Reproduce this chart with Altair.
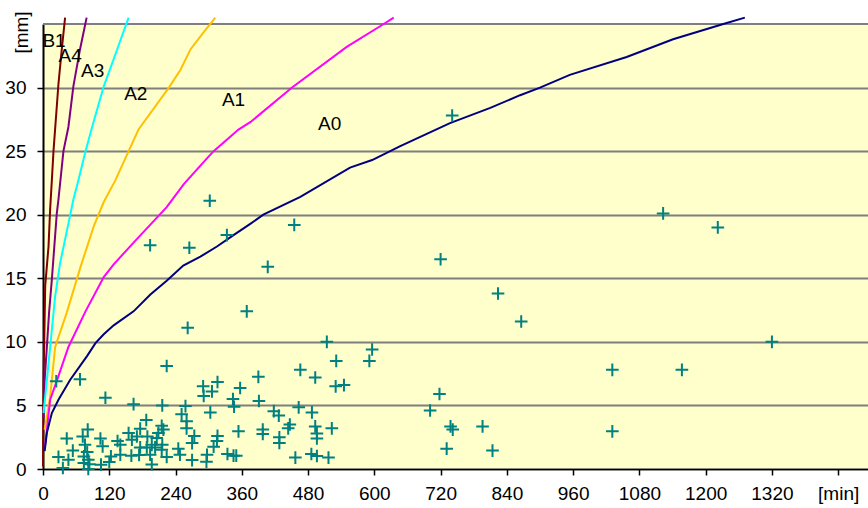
import altair as alt
import pandas as pd

# ---- curve data (time [min], depth [mm]) ----
B1_t = [0, 1, 4, 10, 13, 16, 19, 28, 34, 40]
B1_d = [0.2, 7.0, 14.4, 17.5, 20.5, 22.7, 25.0, 30.3, 33.0, 35.5]
A4_t = [1, 3, 7, 11, 16, 25, 28, 37, 46, 55, 67, 79]
A4_d = [4.0, 7.0, 9.6, 12.3, 14.9, 20.1, 21.2, 25.0, 26.9, 30.1, 33.0, 35.5]
A3_t = [1, 13, 22, 31, 46, 55, 64, 77, 89, 110, 131, 155]
A3_d = [4.4, 9.6, 13.6, 16.2, 19.3, 21.2, 22.7, 25.0, 26.9, 30.1, 32.6, 35.5]
A2_t = [3, 13, 22, 43, 68, 92, 110, 131, 155, 173, 228, 249, 267, 290, 312]
A2_d = [3.1, 5.7, 9.6, 12.3, 15.9, 19.1, 21.0, 22.7, 25.0, 26.7, 30.0, 31.4, 33.0, 34.3, 35.5]
A1_t = [4, 13, 28, 46, 77, 110, 128, 164, 194, 224, 255, 294, 309, 354, 376, 451, 550, 617, 635]
A1_d = [1.9, 5.45, 7.3, 9.6, 12.4, 15.1, 16.1, 17.8, 19.2, 20.6, 22.4, 24.3, 25.0, 26.7, 27.3, 30.0, 33.2, 35.0, 35.5]
A0_t = [3, 7, 16, 28, 49, 80, 95, 110, 128, 164, 194, 224, 254, 285, 315, 345, 376, 399, 466, 556, 596, 647, 737, 810, 864, 900, 954, 1057, 1141, 1232, 1271]
A0_d = [1.4, 2.85, 4.4, 5.45, 7.0, 8.9, 9.9, 10.6, 11.3, 12.4, 13.7, 14.8, 16.0, 16.7, 17.5, 18.4, 19.3, 20.0, 21.4, 23.7, 24.3, 25.4, 27.2, 28.4, 29.4, 30.0, 31.0, 32.4, 33.8, 35.0, 35.5]

series_names = ["B1", "A4", "A3", "A2", "A1", "A0"]
series_colors = ["#800000", "#800080", "#00FFFF", "#FFC000", "#FF00FF", "#000080"]

# label positions (time, depth)
label_t = [-1, 28, 69, 147, 324, 498]
label_d = [33.7, 32.5, 31.3, 29.5, 29.0, 27.1]

# ---- measured points ----
pts_t = [24, 67, 113, 164, 81, 72, 43, 104, 135, 155, 76, 108, 140, 54, 80, 28, 46, 74, 82, 123,
         140, 160, 84, 105, 36, 82, 120, 74, 161, 176, 174, 176, 170,
         187, 189, 209, 215, 203, 188, 194, 215, 197, 197, 216, 224, 218, 206, 216, 224, 245, 248,
         270, 258, 251, 260, 260, 274, 270, 290, 316, 306, 291, 303, 297, 296, 316, 315, 309, 262,
         194, 265, 302, 333,
         357, 390, 344, 346, 391, 354, 398, 398, 334, 345, 350, 369, 407, 455, 418, 427, 428, 428,
         447, 444, 463, 487, 466, 493, 514, 531, 530, 545, 493, 496, 496, 523, 457, 486, 496, 517,
         591, 596,
         701, 718, 738, 742, 796, 731, 814, 741, 720, 824, 866, 1031, 1031, 1123, 1222, 1157, 1320]
pts_d = [6.9, 7.05, 5.6, 5.1, 3.1, 2.56, 2.4, 2.4, 2.2, 2.83, 1.9, 1.78, 1.9, 1.45, 1.33, 0.95, 0.73, 0.99, 0.73, 0.99,
         1.12, 1.05, 0.37, 0.34, 0.08, 0.0, 0.55, 0.47, 2.3, 1.7, 1.1, 3.17, 2.56,
         3.85, 2.56, 2.83, 3.4, 1.7, 1.7, 1.12, 1.52, 0.36, 1.9, 5.0, 8.1, 3.1, 2.44, 1.9, 0.95, 1.6, 1.12,
         0.7, 4.95, 4.3, 3.75, 3.2, 2.6, 2.04, 6.5, 6.84, 6.1, 5.75, 4.45, 1.12, 0.57, 2.6, 2.2, 1.75, 11.1,
         17.6, 17.4, 21.1, 18.4,
         6.37, 7.25, 5.5, 4.9, 5.35, 2.96, 3.1, 2.75, 1.18, 1.05, 1.05, 12.4, 15.9, 19.2, 4.55, 4.2, 2.5, 2.05,
         3.5, 3.2, 4.85, 4.45, 7.8, 7.2, 10.0, 8.5, 6.5, 6.6, 3.35, 2.8, 2.4, 3.2, 0.9, 1.18, 1.02, 0.9,
         8.5, 9.4,
         4.6, 5.9, 3.35, 3.1, 3.35, 1.6, 1.45, 27.8, 16.5, 13.8, 11.6, 7.8, 2.96, 20.1, 19.0, 7.8, 10.0]

x_ticks = list(range(0, 1441, 120))
y_ticks = [0, 5, 10, 15, 20, 25, 30]

# ---- build tables ----
curve_rows = []
for name, ts, ds in [("B1", B1_t, B1_d), ("A4", A4_t, A4_d), ("A3", A3_t, A3_d),
                     ("A2", A2_t, A2_d), ("A1", A1_t, A1_d), ("A0", A0_t, A0_d)]:
    for i, (t, d) in enumerate(zip(ts, ds)):
        curve_rows.append({"x": t, "y": d, "series": name, "i": i})
curve_df = pd.DataFrame(curve_rows)
pts_df = pd.DataFrame({"x": pts_t, "y": pts_d})
lab_df = pd.DataFrame({"x": label_t, "y": label_d, "label": series_names})
top_df = pd.DataFrame({"y": [35]})

FONT = "Liberation Sans"
xscale = alt.Scale(domain=[0, 1494], nice=False, zero=False)
yscale = alt.Scale(domain=[0, 35], nice=False, zero=False)

xaxis = alt.Axis(values=x_ticks, format="d",
                 labelExpr="datum.value == 1440 ? '[min]' : datum.label",
                 title=None, grid=False, tickSize=6, tickColor="black", tickWidth=1.5,
                 domainColor="black", domainWidth=1.5, labelFont=FONT, labelFontSize=19,
                 labelColor="black", labelPadding=9, labelFlush=False, labelOverlap=False)
yaxis = alt.Axis(values=y_ticks, title="[mm]", titleAngle=270, titleX=-22, titleY=8,
                 titleAlign="center", titleBaseline="middle", titleFont=FONT, titleFontSize=19,
                 titleFontWeight="normal", titleColor="black",
                 grid=True, gridColor="#7f7f7f", gridWidth=2,
                 tickSize=6, tickColor="black", tickWidth=1.5,
                 domainColor="black", domainWidth=2, labelFont=FONT, labelFontSize=19,
                 labelColor="black", labelPadding=11, labelOverlap=False)

top_rule = alt.Chart(top_df).mark_rule(color="#7f7f7f", strokeWidth=2).encode(
    y=alt.Y("y:Q", scale=yscale, axis=yaxis)
)

lines = alt.Chart(curve_df).mark_line(strokeWidth=2, clip=False).encode(
    x=alt.X("x:Q", scale=xscale, axis=xaxis),
    y=alt.Y("y:Q", scale=yscale, axis=yaxis),
    color=alt.Color("series:N", scale=alt.Scale(domain=series_names, range=series_colors), legend=None),
    order=alt.Order("i:Q"),
)

points = alt.Chart(pts_df).mark_point(
    shape="M-1,0H1M0,-1V1", filled=False, strokeWidth=2, size=160, color="#008080", opacity=1
).encode(
    x=alt.X("x:Q", scale=xscale, axis=xaxis),
    y=alt.Y("y:Q", scale=yscale, axis=yaxis),
)

texts = alt.Chart(lab_df).mark_text(
    align="left", baseline="middle", font=FONT, fontSize=19, color="black"
).encode(
    x=alt.X("x:Q", scale=xscale, axis=xaxis),
    y=alt.Y("y:Q", scale=yscale, axis=yaxis),
    text="label:N",
)

chart = alt.layer(top_rule, lines, points, texts).properties(
    width=825, height=445, autosize="none",
    padding={"left": 43, "top": 24, "right": 0, "bottom": 39},
    background="white",
).configure_view(fill="#FFFFCC", stroke=None)

chart.save("out.html", embed_options={"renderer": "svg", "actions": False})
